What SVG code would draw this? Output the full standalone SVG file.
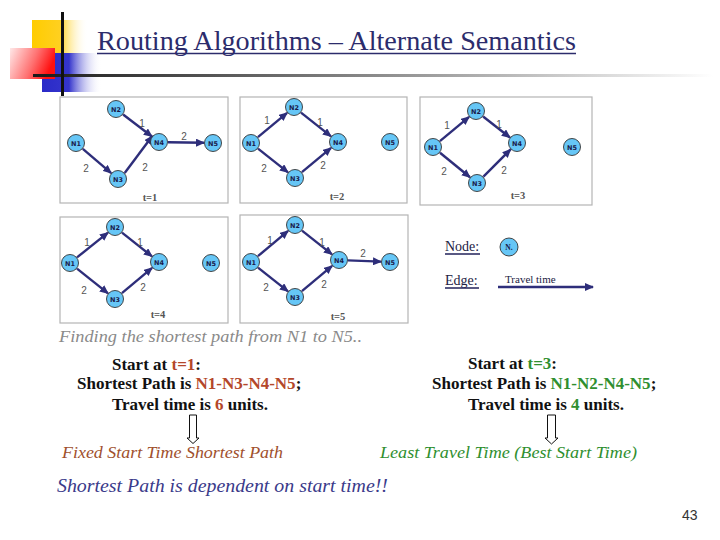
<svg xmlns="http://www.w3.org/2000/svg" width="720" height="540" viewBox="0 0 720 540">
<defs>
<linearGradient id="gy" x1="0" y1="0" x2="1" y2="0"><stop offset="0" stop-color="#FFCC00"/><stop offset="0.5" stop-color="#FFD020"/><stop offset="1" stop-color="#FFFFFF" stop-opacity="0"/></linearGradient>
<linearGradient id="gb" x1="0" y1="0" x2="1" y2="0"><stop offset="0" stop-color="#2A2AC8"/><stop offset="0.45" stop-color="#3535CC"/><stop offset="1" stop-color="#FFFFFF" stop-opacity="0"/></linearGradient>
<linearGradient id="gr" x1="0" y1="0" x2="1" y2="0.3"><stop offset="0" stop-color="#FFE8E8"/><stop offset="0.6" stop-color="#FF7070"/><stop offset="1" stop-color="#FF1010"/></linearGradient>
<linearGradient id="gl" x1="0" y1="0" x2="1" y2="0"><stop offset="0" stop-color="#1A1A1A"/><stop offset="0.5" stop-color="#8A8A8A"/><stop offset="1" stop-color="#FFFFFF"/></linearGradient>
<marker id="ah" markerUnits="userSpaceOnUse" markerWidth="9" markerHeight="8" refX="8" refY="4" orient="auto"><path d="M0,0 L9,4 L0,8 z" fill="#2E2E7A"/></marker>
<style>
.box{fill:#fff;stroke:#B4B4B4;stroke-width:1.2}
.nd{fill:#66C6F6;stroke:#333;stroke-width:0.9}
.nt{font-family:"DejaVu Sans",sans-serif;font-size:6.5px;font-weight:bold;fill:#1A1A4A;text-anchor:middle}
.ed{stroke:#2E2E7A;stroke-width:2.4;fill:none;marker-end:url(#ah)}
.el{font-family:"Liberation Sans",Arial,sans-serif;font-size:10px;fill:#555;text-anchor:middle}
.tl{font-family:"Liberation Serif","Times New Roman",serif;font-size:10.5px;font-weight:bold;fill:#555;text-anchor:middle}
.bt{font-family:"Liberation Serif","Times New Roman",serif;font-size:17px;font-weight:bold;fill:#111}
.rd{fill:#B4472A}
.gn{fill:#2F8F2F}
.it{font-family:"Liberation Serif","Times New Roman",serif;font-style:italic}
.lg{font-family:"Liberation Serif","Times New Roman",serif;font-size:14px;fill:#222244}
</style>
</defs>
<rect width="720" height="540" fill="#fff"/>
<!-- decoration -->
<rect x="32" y="20" width="56" height="34" fill="url(#gy)"/>
<rect x="42" y="53" width="60" height="39" fill="url(#gb)"/>
<rect x="10" y="48" width="45" height="31" fill="url(#gr)"/>
<rect x="33" y="74" width="680" height="3" fill="url(#gl)"/>
<rect x="61" y="12" width="3" height="84" fill="#111"/>
<!-- title -->
<text x="97" y="50" font-family="'Liberation Serif','Times New Roman',serif" font-size="27" fill="#2C2C6C" textLength="479" lengthAdjust="spacingAndGlyphs">Routing Algorithms – Alternate Semantics</text>
<line x1="97" y1="53.5" x2="576" y2="53.5" stroke="#2C2C6C" stroke-width="1.5"/>
<!-- panel boxes -->
<rect class="box" x="60" y="97" width="168" height="106"/>
<rect class="box" x="240" y="97" width="167" height="106"/>
<rect class="box" x="420" y="97" width="172" height="108"/>
<rect class="box" x="60" y="217" width="168" height="106"/>
<rect class="box" x="240" y="215" width="168" height="108"/>
<!-- connectors -->
<g id="connectors">
<line class="ed" x1="123.1" y1="114.5" x2="151.9" y2="136.5"/>
<line class="ed" x1="168" y1="142.2" x2="204" y2="142.8"/>
<line class="ed" x1="82.8" y1="148.9" x2="111.2" y2="173.1"/>
<line class="ed" x1="124.7" y1="173" x2="152.3" y2="136"/>
<line class="ed" x1="257.9" y1="137.2" x2="287.1" y2="112.8"/>
<line class="ed" x1="301" y1="112.6" x2="331" y2="136.4"/>
<line class="ed" x1="258" y1="148.6" x2="288" y2="172.4"/>
<line class="ed" x1="301.9" y1="172.2" x2="331.1" y2="147.8"/>
<line class="ed" x1="439.9" y1="141.2" x2="469.1" y2="116.8"/>
<line class="ed" x1="483.1" y1="116.5" x2="509.9" y2="137.5"/>
<line class="ed" x1="440" y1="152.7" x2="470" y2="177.3"/>
<line class="ed" x1="483.4" y1="176.6" x2="510.6" y2="149.4"/>
<line class="ed" x1="77" y1="257.4" x2="108" y2="232.6"/>
<line class="ed" x1="122" y1="232.6" x2="152" y2="256.4"/>
<line class="ed" x1="77" y1="268.6" x2="108" y2="293.4"/>
<line class="ed" x1="121.9" y1="293.2" x2="152.1" y2="267.8"/>
<line class="ed" x1="257.9" y1="256.2" x2="288.1" y2="230.8"/>
<line class="ed" x1="302" y1="230.6" x2="332" y2="254.4"/>
<line class="ed" x1="258" y1="267.6" x2="288" y2="291.4"/>
<line class="ed" x1="301.9" y1="291.2" x2="332.1" y2="265.8"/>
<line class="ed" x1="348" y1="260.4" x2="381" y2="261.6"/>
<line class="ed" x1="498" y1="287" x2="593" y2="287"/>
</g>
<!-- edge labels -->
<g id="edge-labels">
<text class="el" x="142" y="127">1</text><text class="el" x="184" y="140">2</text><text class="el" x="86" y="172">2</text><text class="el" x="145" y="171">2</text>
<text class="el" x="267" y="124">1</text><text class="el" x="320" y="126">1</text><text class="el" x="264" y="172">2</text><text class="el" x="323" y="169">2</text>
<text class="el" x="447" y="129">1</text><text class="el" x="499" y="128">1</text><text class="el" x="444" y="175">2</text><text class="el" x="504" y="174">2</text>
<text class="el" x="87" y="246">1</text><text class="el" x="140" y="246">1</text><text class="el" x="84" y="294">2</text><text class="el" x="143" y="291">2</text>
<text class="el" x="270" y="244">1</text><text class="el" x="322" y="246">1</text><text class="el" x="363" y="257">2</text><text class="el" x="266" y="291">2</text><text class="el" x="324" y="288">2</text>
</g>
<!-- time labels -->
<text class="tl" x="150" y="201">t=1</text>
<text class="tl" x="337" y="200">t=2</text>
<text class="tl" x="518" y="199">t=3</text>
<text class="tl" x="158" y="318">t=4</text>
<text class="tl" x="338" y="320">t=5</text>
<!-- nodes panel t=1 -->
<g id="t1-n1"><circle class="nd" cx="76" cy="143" r="8.5"/><text class="nt" x="76" y="145.5">N1</text></g>
<g id="t1-n2"><circle class="nd" cx="116" cy="109" r="8.5"/><text class="nt" x="116" y="111.5">N2</text></g>
<g id="t1-n3"><circle class="nd" cx="118" cy="179" r="8.5"/><text class="nt" x="118" y="181.5">N3</text></g>
<g id="t1-n4"><circle class="nd" cx="159" cy="142" r="8.5"/><text class="nt" x="159" y="144.5">N4</text></g>
<g id="t1-n5"><circle class="nd" cx="213" cy="143" r="8.5"/><text class="nt" x="213" y="145.5">N5</text></g>
<!-- t=2 -->
<g id="t2-n1"><circle class="nd" cx="251" cy="143" r="8.5"/><text class="nt" x="251" y="145.5">N1</text></g>
<g id="t2-n2"><circle class="nd" cx="294" cy="107" r="8.5"/><text class="nt" x="294" y="109.5">N2</text></g>
<g id="t2-n3"><circle class="nd" cx="295" cy="178" r="8.5"/><text class="nt" x="295" y="180.5">N3</text></g>
<g id="t2-n4"><circle class="nd" cx="338" cy="142" r="8.5"/><text class="nt" x="338" y="144.5">N4</text></g>
<g id="t2-n5"><circle class="nd" cx="390" cy="142" r="8.5"/><text class="nt" x="390" y="144.5">N5</text></g>
<!-- t=3 -->
<g id="t3-n1"><circle class="nd" cx="433" cy="147" r="8.5"/><text class="nt" x="433" y="149.5">N1</text></g>
<g id="t3-n2"><circle class="nd" cx="476" cy="111" r="8.5"/><text class="nt" x="476" y="113.5">N2</text></g>
<g id="t3-n3"><circle class="nd" cx="477" cy="183" r="8.5"/><text class="nt" x="477" y="185.5">N3</text></g>
<g id="t3-n4"><circle class="nd" cx="517" cy="143" r="8.5"/><text class="nt" x="517" y="145.5">N4</text></g>
<g id="t3-n5"><circle class="nd" cx="572" cy="147" r="8.5"/><text class="nt" x="572" y="149.5">N5</text></g>
<!-- t=4 -->
<g id="t4-n1"><circle class="nd" cx="70" cy="263" r="8.5"/><text class="nt" x="70" y="265.5">N1</text></g>
<g id="t4-n2"><circle class="nd" cx="115" cy="227" r="8.5"/><text class="nt" x="115" y="229.5">N2</text></g>
<g id="t4-n3"><circle class="nd" cx="115" cy="299" r="8.5"/><text class="nt" x="115" y="301.5">N3</text></g>
<g id="t4-n4"><circle class="nd" cx="159" cy="262" r="8.5"/><text class="nt" x="159" y="264.5">N4</text></g>
<g id="t4-n5"><circle class="nd" cx="211" cy="263" r="8.5"/><text class="nt" x="211" y="265.5">N5</text></g>
<!-- t=5 -->
<g id="t5-n1"><circle class="nd" cx="251" cy="262" r="8.5"/><text class="nt" x="251" y="264.5">N1</text></g>
<g id="t5-n2"><circle class="nd" cx="295" cy="225" r="8.5"/><text class="nt" x="295" y="227.5">N2</text></g>
<g id="t5-n3"><circle class="nd" cx="295" cy="297" r="8.5"/><text class="nt" x="295" y="299.5">N3</text></g>
<g id="t5-n4"><circle class="nd" cx="339" cy="260" r="8.5"/><text class="nt" x="339" y="262.5">N4</text></g>
<g id="t5-n5"><circle class="nd" cx="390" cy="262" r="8.5"/><text class="nt" x="390" y="264.5">N5</text></g>
<!-- legend -->
<g id="legend">
<text class="lg" x="445" y="251">Node:</text>
<line x1="445" y1="254" x2="480" y2="254" stroke="#22225A" stroke-width="1.5"/>
<g id="legend-node"><circle class="nd" cx="509" cy="247" r="9"/><text x="509" y="249.5" font-family="'Liberation Serif',serif" font-size="7.5" font-weight="bold" fill="#1A1A4A" text-anchor="middle">N.</text></g>
<text class="lg" x="445" y="285">Edge:</text>
<line x1="445" y1="288" x2="479" y2="288" stroke="#22225A" stroke-width="1.5"/>
<text x="505" y="283" font-family="'Liberation Serif','Times New Roman',serif" font-size="11" fill="#222244">Travel time</text>
</g>
<!-- captions -->
<text class="it" x="59" y="342" font-size="16" fill="#8A8A8A" textLength="303" lengthAdjust="spacingAndGlyphs">Finding the shortest path from N1 to N5..</text>
<text class="bt" x="112" y="370">Start at <tspan class="rd">t=1</tspan>:</text>
<text class="bt" x="77" y="389">Shortest Path is <tspan class="rd">N1-N3-N4-N5</tspan>;</text>
<text class="bt" x="112" y="410">Travel time is <tspan class="rd">6</tspan> units.</text>
<text class="bt" x="468" y="369">Start at <tspan class="gn">t=3</tspan>:</text>
<text class="bt" x="432" y="389">Shortest Path is <tspan class="gn">N1-N2-N4-N5</tspan>;</text>
<text class="bt" x="468" y="410">Travel time is <tspan class="gn">4</tspan> units.</text>
<!-- hollow arrows -->
<path d="M189.5,415 H196.5 V438 H199 L193,443.5 L187,438 H189.5 Z" fill="#fff" stroke="#111" stroke-width="1"/>
<path d="M547.5,415 H555.5 V438 H558 L551.5,444 L545,438 H547.5 Z" fill="#fff" stroke="#111" stroke-width="1"/>
<text class="it" x="62" y="458" font-size="16" fill="#A0502D" textLength="221" lengthAdjust="spacingAndGlyphs">Fixed Start Time Shortest Path</text>
<text class="it" x="380" y="458" font-size="16" fill="#2F8F2F" textLength="257" lengthAdjust="spacingAndGlyphs">Least Travel Time (Best Start Time)</text>
<text class="it" x="57" y="492" font-size="19" fill="#3A3A8A" textLength="331" lengthAdjust="spacingAndGlyphs">Shortest Path is dependent on start time!!</text>
<text x="682" y="520" font-family="'Liberation Sans',Arial,sans-serif" font-size="14" fill="#333">43</text>
</svg>
